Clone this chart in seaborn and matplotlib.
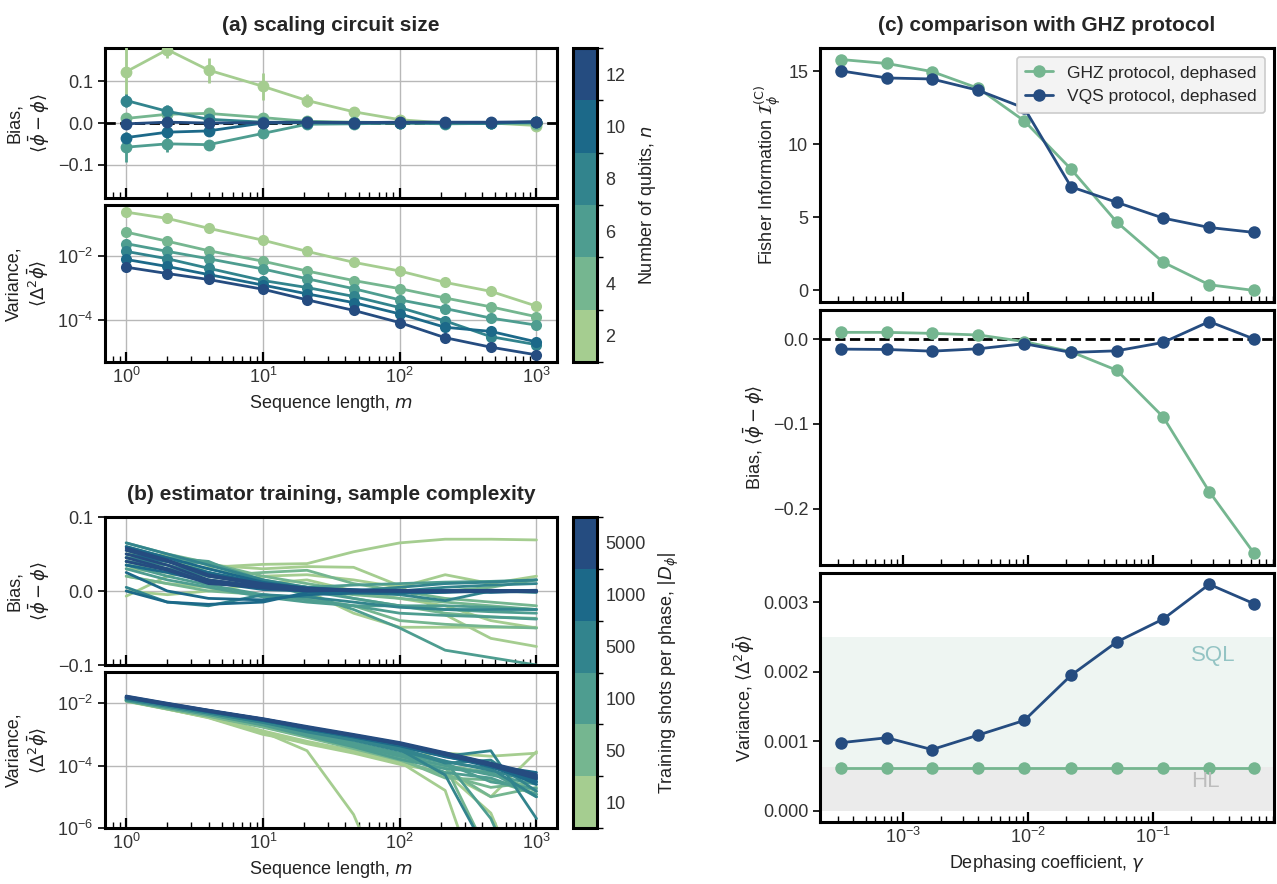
import numpy as np
import pandas as pd
import seaborn as sns
import matplotlib.pyplot as plt
from matplotlib.colors import ListedColormap, BoundaryNorm
from matplotlib.cm import ScalarMappable
from matplotlib.ticker import LogLocator, NullLocator, NullFormatter

# ---------------- data ----------------
m = [1, 2, 4, 10, 21, 46, 100, 215, 464, 1000]

# (a) scaling circuit size
n_qubits = [2, 4, 6, 8, 10, 12]
bias_a = [
    [0.123, 0.176, 0.127, 0.088, 0.054, 0.027, 0.008, 0.000, 0.000, -0.006],
    [0.011, 0.021, 0.023, 0.013, 0.004, 0.002, 0.001, 0.000, -0.001, -0.002],
    [-0.058, -0.050, -0.052, -0.025, -0.003, -0.002, 0.000, -0.002, -0.001, 0.002],
    [0.054, 0.028, 0.009, 0.002, 0.002, 0.001, 0.000, 0.000, 0.000, 0.003],
    [-0.035, -0.022, -0.019, 0.000, 0.001, 0.000, 0.001, 0.001, 0.000, 0.002],
    [-0.002, 0.002, 0.000, 0.001, 0.002, 0.001, 0.002, 0.002, 0.002, 0.003],
]
bias_err_a = [
    [0.065, 0.020, 0.030, 0.032, 0.016, 0.006, 0.004, 0.002, 0.002, 0.002],
    [0.012, 0.010, 0.008, 0.005, 0.003, 0.002, 0.001, 0.001, 0.001, 0.001],
    [0.036, 0.020, 0.010, 0.008, 0.003, 0.002, 0.001, 0.001, 0.001, 0.001],
    [0.015, 0.015, 0.005, 0.003, 0.002, 0.001, 0.001, 0.001, 0.001, 0.001],
    [0.010, 0.008, 0.005, 0.003, 0.002, 0.001, 0.001, 0.001, 0.001, 0.001],
    [0.005, 0.004, 0.003, 0.002, 0.001, 0.001, 0.001, 0.001, 0.001, 0.001],
]
var_a = [
    [0.232, 0.148, 0.073, 0.031, 0.0139, 0.00636, 0.0034, 0.0015, 0.00079, 0.000274],
    [0.0553, 0.0288, 0.0146, 0.00686, 0.0034, 0.00172, 0.00096, 0.00049, 0.00026, 0.000128],
    [0.0242, 0.0139, 0.0082, 0.00394, 0.00195, 0.00096, 0.00043, 0.00023, 0.000116, 7.0e-5],
    [0.0139, 0.0082, 0.00414, 0.00172, 0.00104, 0.00055, 0.000247, 9.5e-5, 3.06e-5, 1.72e-5],
    [0.00778, 0.0047, 0.00264, 0.00124, 0.00066, 0.000352, 0.000157, 6.0e-5, 4.47e-5, 2.1e-5],
    [0.00447, 0.00284, 0.00185, 0.00092, 0.00043, 0.000202, 8.4e-5, 2.84e-5, 1.44e-5, 8.3e-6],
]

# (b) estimator training, five runs per number of training shots
shots = [10, 50, 100, 500, 1000, 5000]
bias_b = {
    10: [
        [-0.007, 0.020, 0.032, 0.036, 0.037, 0.053, 0.065, 0.070, 0.070, 0.069],
        [0.050, 0.048, 0.035, 0.030, 0.033, 0.032, 0.007, -0.032, -0.064, -0.075],
        [0.020, 0.010, 0.005, 0.020, 0.022, 0.015, 0.005, 0.022, 0.010, 0.020],
        [0.000, -0.005, 0.000, 0.010, 0.015, 0.000, -0.010, -0.020, -0.040, -0.050],
        [0.030, 0.025, 0.015, 0.005, 0.000, -0.030, -0.049, -0.049, -0.049, -0.049],
    ],
    50: [
        [0.040, 0.035, 0.020, 0.025, 0.028, 0.010, 0.000, -0.010, -0.015, -0.020],
        [0.045, 0.040, 0.030, 0.015, 0.005, -0.010, -0.020, -0.030, -0.035, -0.037],
        [0.065, 0.050, 0.038, 0.020, 0.010, 0.000, 0.000, 0.000, 0.005, 0.015],
        [0.020, 0.010, 0.000, -0.005, -0.010, -0.020, -0.040, -0.045, -0.048, -0.050],
        [0.035, 0.030, 0.020, 0.010, 0.003, -0.005, -0.010, -0.015, -0.020, -0.025],
    ],
    100: [
        [0.060, 0.045, 0.040, 0.010, -0.005, -0.025, -0.050, -0.080, -0.090, -0.100],
        [0.045, 0.040, 0.038, 0.015, 0.000, -0.010, -0.020, -0.025, -0.028, -0.030],
        [0.030, 0.015, 0.005, -0.008, -0.015, -0.020, -0.020, -0.020, -0.022, -0.025],
        [0.040, 0.030, 0.025, 0.010, 0.005, 0.008, 0.010, 0.012, 0.013, 0.015],
        [0.035, 0.020, 0.008, -0.005, -0.012, -0.020, -0.030, -0.033, -0.035, -0.038],
    ],
    500: [
        [0.065, 0.050, 0.035, 0.015, 0.005, 0.000, 0.005, 0.010, 0.012, 0.015],
        [0.045, 0.035, 0.020, 0.010, 0.005, -0.002, -0.005, -0.013, 0.000, 0.000],
        [0.005, -0.015, -0.020, -0.005, -0.008, -0.015, -0.022, -0.025, -0.025, -0.025],
        [0.055, 0.040, 0.025, 0.005, 0.000, 0.000, 0.000, 0.005, 0.008, 0.010],
        [0.040, 0.030, 0.015, 0.005, 0.002, 0.000, 0.000, 0.000, 0.000, -0.002],
    ],
    1000: [
        [0.000, -0.015, -0.018, -0.015, -0.002, 0.000, 0.000, 0.000, 0.000, 0.000],
        [0.025, 0.000, -0.010, -0.012, -0.005, -0.003, -0.003, -0.002, 0.000, 0.000],
        [0.050, 0.040, 0.025, 0.010, 0.004, 0.002, 0.000, 0.000, -0.002, 0.000],
        [0.060, 0.045, 0.030, 0.012, 0.003, 0.000, 0.000, 0.000, 0.000, 0.000],
        [0.035, 0.025, 0.012, 0.002, 0.000, -0.002, -0.001, 0.000, 0.000, 0.000],
    ],
    5000: [
        [0.055, 0.040, 0.020, 0.008, 0.003, 0.001, 0.000, 0.000, 0.000, 0.000],
        [0.050, 0.035, 0.015, 0.006, 0.002, 0.000, 0.000, 0.000, 0.000, -0.001],
        [0.045, 0.030, 0.012, 0.004, 0.000, 0.001, 0.000, 0.000, 0.001, 0.000],
        [0.040, 0.028, 0.010, 0.005, 0.002, 0.000, 0.000, -0.001, 0.000, 0.000],
        [0.058, 0.042, 0.022, 0.010, 0.004, 0.001, 0.001, 0.000, 0.000, 0.001],
    ],
}
var_b = {
    10: [
        [0.012, 0.0065, 0.0036, 0.0012, 0.0003, 2.7e-6, 1e-9, 1e-9, 1e-9, 1e-9],
        [0.0118, 0.0065, 0.0034, 0.0010, 0.00055, 0.0003, 0.0002, 0.00025, 0.0002, 0.00025],
        [0.012, 0.0068, 0.0038, 0.0013, 0.0006, 0.0003, 0.00013, 1.6e-5, 1e-9, 1e-9],
        [0.0115, 0.0064, 0.0035, 0.0011, 0.0005, 0.00025, 0.00011, 6e-5, 1e-5, 2.8e-4],
        [0.0122, 0.0067, 0.0037, 0.0012, 0.00055, 0.00028, 0.00012, 6e-5, 3e-6, 1e-9],
    ],
    50: [
        [0.012, 0.0068, 0.0040, 0.0018, 0.0009, 0.0004, 0.00018, 8e-5, 1e-5, 2e-5],
        [0.0125, 0.0070, 0.0042, 0.0019, 0.0010, 0.00045, 0.0002, 0.0001, 6e-5, 1.5e-5],
        [0.012, 0.0069, 0.0038, 0.0017, 0.0008, 0.00035, 0.00015, 5e-5, 2e-5, 3e-5],
        [0.0118, 0.0066, 0.0039, 0.0018, 0.00085, 0.00038, 0.00016, 4e-5, 3.5e-5, 1.2e-5],
        [0.0122, 0.0069, 0.0040, 0.0018, 0.0009, 0.0004, 0.00017, 0.0001, 1e-7, 1e-9],
    ],
    100: [
        [0.013, 0.0075, 0.0045, 0.0022, 0.0011, 0.0005, 0.00022, 6e-5, 4e-5, 1.2e-5],
        [0.0125, 0.0074, 0.0044, 0.0021, 0.0010, 0.00045, 0.0002, 0.0001, 5e-5, 2.5e-5],
        [0.013, 0.0078, 0.0046, 0.0023, 0.0012, 0.00055, 0.00025, 0.00012, 3e-5, 1.8e-5],
        [0.012, 0.0072, 0.0043, 0.0020, 0.0009, 0.0004, 0.00016, 8e-5, 6e-5, 1e-5],
        [0.0128, 0.0076, 0.0045, 0.0022, 0.0011, 0.0005, 0.00021, 0.00014, 2e-6, 1e-9],
    ],
    500: [
        [0.014, 0.0085, 0.0050, 0.0026, 0.0014, 0.0007, 0.0004, 0.0002, 0.0003, 2e-6],
        [0.0145, 0.0088, 0.0052, 0.0027, 0.0014, 0.00075, 0.00038, 0.00012, 0.00015, 1.5e-5],
        [0.013, 0.0080, 0.0048, 0.0025, 0.0013, 0.0007, 0.00035, 0.00014, 7e-5, 3e-5],
        [0.0135, 0.0082, 0.0049, 0.0024, 0.0012, 0.00065, 0.0003, 0.00013, 8e-5, 1e-5],
        [0.014, 0.0086, 0.0051, 0.0026, 0.0013, 0.0007, 0.00033, 5e-5, 1e-7, 1e-9],
    ],
    1000: [
        [0.015, 0.0090, 0.0055, 0.0030, 0.0016, 0.0009, 0.0005, 0.00022, 0.0001, 3.5e-5],
        [0.016, 0.0095, 0.0056, 0.0029, 0.0015, 0.00085, 0.00045, 0.0002, 9e-5, 3e-5],
        [0.0145, 0.0088, 0.0054, 0.0028, 0.0016, 0.00088, 0.00048, 0.00021, 0.0001, 6e-5],
        [0.0155, 0.0092, 0.0056, 0.0030, 0.0017, 0.0009, 0.0005, 0.00023, 0.0001, 4e-5],
        [0.015, 0.0090, 0.0053, 0.0028, 0.0015, 0.00082, 0.00043, 0.00019, 0.00011, 2.5e-5],
    ],
    5000: [
        [0.016, 0.0095, 0.0058, 0.0031, 0.0017, 0.00095, 0.00052, 0.00024, 0.00011, 4.5e-5],
        [0.017, 0.0100, 0.0060, 0.0032, 0.0018, 0.0010, 0.00055, 0.00026, 0.00012, 5.2e-5],
        [0.015, 0.0090, 0.0055, 0.0029, 0.0016, 0.0009, 0.00049, 0.00022, 0.0001, 3.8e-5],
        [0.0165, 0.0097, 0.0059, 0.0030, 0.00165, 0.00092, 0.0005, 0.00023, 0.000105, 4.2e-5],
        [0.0155, 0.0092, 0.0057, 0.0031, 0.0017, 0.00094, 0.00051, 0.00025, 0.000115, 4.8e-5],
    ],
}

# (c) comparison with GHZ protocol
gamma = [3.2e-4, 7.4e-4, 1.7e-3, 4.0e-3, 9.3e-3, 0.022, 0.051, 0.12, 0.28, 0.64]
fisher_ghz = [15.8, 15.53, 14.98, 13.83, 11.6, 8.3, 4.68, 1.93, 0.39, 0.0]
fisher_vqs = [15.02, 14.54, 14.47, 13.69, 12.48, 7.09, 6.03, 4.95, 4.31, 3.97]
bias_ghz = [0.0079, 0.0079, 0.0067, 0.0048, -0.003, -0.015, -0.0368, -0.092, -0.18, -0.253]
bias_vqs = [-0.0119, -0.0123, -0.0143, -0.0115, -0.0055, -0.0158, -0.0139, -0.004, 0.0206, 0.0]
var_ghz = [0.00062] * 10
var_vqs = [0.00098, 0.00105, 0.00088, 0.00109, 0.0013, 0.00195, 0.00243, 0.00276, 0.00326, 0.00298]
sql_level = 0.0025
hl_level = 0.000625

# ---------------- style ----------------
sns.set_theme(style="ticks")
plt.rcParams.update({
    "axes.linewidth": 2.2,
    "axes.edgecolor": "black",
    "xtick.direction": "in",
    "ytick.direction": "out",
    "xtick.color": "black",
    "ytick.color": "black",
    "xtick.labelcolor": "#333333",
    "ytick.labelcolor": "#333333",
    "xtick.labelsize": 13,
    "ytick.labelsize": 13,
    "axes.labelsize": 13,
    "axes.labelcolor": "#222222",
    "mathtext.fontset": "dejavusans",
})
plt.rcParams["font.family"] = ["Liberation Sans", "DejaVu Sans"]

crest = sns.color_palette("crest", as_cmap=True)
shades = [crest(v) for v in np.linspace(0.0, 0.85, 6)]
ghz_color = shades[1]
vqs_color = shades[5]

W, H = 1277, 884
fig = plt.figure(figsize=(W / 100, H / 100), dpi=100)


def box(l, t, r, b):
    return [l / W, 1 - b / H, (r - l) / W, (b - t) / H]


def log_x(ax, labels=True):
    ax.set_xscale("log")
    ax.xaxis.set_major_locator(LogLocator(base=10, numticks=10))
    ax.xaxis.set_minor_locator(LogLocator(base=10, subs=np.arange(2, 10), numticks=20))
    ax.xaxis.set_minor_formatter(NullFormatter())
    ax.tick_params(axis="x", which="major", length=7, width=1.6, top=False)
    ax.tick_params(axis="x", which="minor", length=4, width=1.0, top=False)
    ax.tick_params(axis="y", which="major", length=5, width=1.2)
    ax.tick_params(axis="x", labelbottom=labels)


def add_cbar(rect, labels, ticks, bounds, label):
    cax = fig.add_axes(box(*rect))
    cmap = ListedColormap(shades)
    norm = BoundaryNorm(bounds, cmap.N)
    cb = fig.colorbar(ScalarMappable(norm=norm, cmap=cmap), cax=cax, ticks=ticks)
    cb.ax.set_yticklabels(labels)
    cb.outline.set_linewidth(2.2)
    cb.ax.tick_params(length=0, labelsize=13, pad=6)
    cb.set_label(label, fontsize=13, labelpad=8)
    return cb


grid_kw = dict(color="#b8b8b8", lw=1.0)

# ---------------- (a) ----------------
ax_a1 = fig.add_axes(box(105, 48, 557, 198))
ax_a2 = fig.add_axes(box(105, 205, 557, 362), sharex=ax_a1)

ax_a1.axhline(0, color="black", ls="--", lw=2, zorder=1)
for c, b, e in zip(shades, bias_a, bias_err_a):
    ax_a1.errorbar(m, b, yerr=e, fmt="-o", color=c, ms=7.5, lw=2, elinewidth=2,
                   capsize=0, zorder=3)

var_a_df = pd.DataFrame([
    {"m": mm, "var": v, "n": n}
    for n, row in zip(n_qubits, var_a) for mm, v in zip(m, row)
])
sns.lineplot(data=var_a_df, x="m", y="var", hue="n", palette=dict(zip(n_qubits, shades)),
             marker="o", markersize=8, markeredgewidth=0, lw=2, legend=False, ax=ax_a2)

for ax in (ax_a1, ax_a2):
    log_x(ax, labels=(ax is ax_a2))
    ax.grid(True, which="major", **grid_kw)
    ax.set_axisbelow(True)

ax_a1.set_ylim(-0.18, 0.18)
ax_a1.set_yticks([-0.1, 0.0, 0.1])
ax_a1.set_ylabel("Bias,\n" + r"$\langle\bar{\phi}-\phi\rangle$")
ax_a1.set_xlabel("")
ax_a1.set_title("(a) scaling circuit size", fontsize=15, fontweight="bold", pad=12)

ax_a2.set_yscale("log")
ax_a2.set_yticks([1e-4, 1e-2])
ax_a2.yaxis.set_minor_locator(NullLocator())
ax_a2.set_ylabel("Variance,\n" + r"$\langle\Delta^2\bar{\phi}\rangle$")
ax_a2.set_xlabel(r"Sequence length, $m$")
ax_a2.set_xlim(0.7, 1413)

add_cbar((573, 48, 597, 362), [str(n) for n in n_qubits], n_qubits,
         [1, 3, 5, 7, 9, 11, 13], r"Number of qubits, $n$")

# ---------------- (b) ----------------
ax_b1 = fig.add_axes(box(105, 517, 557, 665))
ax_b2 = fig.add_axes(box(105, 672, 557, 828), sharex=ax_b1)

rows = []
for s in shots:
    for run, (brow, vrow) in enumerate(zip(bias_b[s], var_b[s])):
        for mm, bv, vv in zip(m, brow, vrow):
            rows.append({"m": mm, "bias": bv, "var": vv, "shots": s, "run": run})
b_df = pd.DataFrame(rows)
pal_b = dict(zip(shots, shades))
sns.lineplot(data=b_df, x="m", y="bias", hue="shots", units="run", estimator=None,
             palette=pal_b, hue_order=shots, lw=2, legend=False, ax=ax_b1)
sns.lineplot(data=b_df, x="m", y="var", hue="shots", units="run", estimator=None,
             palette=pal_b, hue_order=shots, lw=2, legend=False, ax=ax_b2)

for ax in (ax_b1, ax_b2):
    log_x(ax, labels=(ax is ax_b2))
    ax.grid(True, which="major", **grid_kw)
    ax.set_axisbelow(True)

ax_b1.set_ylim(-0.1, 0.1)
ax_b1.set_yticks([-0.1, 0.0, 0.1])
ax_b1.set_ylabel("Bias,\n" + r"$\langle\bar{\phi}-\phi\rangle$")
ax_b1.set_xlabel("")
ax_b1.set_title("(b) estimator training, sample complexity", fontsize=15,
                fontweight="bold", pad=12)

ax_b2.set_yscale("log")
ax_b2.set_ylim(1e-6, 0.1)
ax_b2.set_yticks([1e-6, 1e-4, 1e-2])
ax_b2.yaxis.set_minor_locator(NullLocator())
ax_b2.set_ylabel("Variance,\n" + r"$\langle\Delta^2\bar{\phi}\rangle$")
ax_b2.set_xlabel(r"Sequence length, $m$")
ax_b2.set_xlim(0.7, 1413)

add_cbar((573, 517, 597, 828), [str(s) for s in shots], [0.5, 1.5, 2.5, 3.5, 4.5, 5.5],
         [0, 1, 2, 3, 4, 5, 6], r"Training shots per phase, $|D_\phi|$")

# ---------------- (c) ----------------
ax_c1 = fig.add_axes(box(820, 48, 1274, 302))
ax_c2 = fig.add_axes(box(820, 310, 1274, 565), sharex=ax_c1)
ax_c3 = fig.add_axes(box(820, 573, 1274, 822), sharex=ax_c1)

c_df = pd.DataFrame({
    "gamma": gamma * 2,
    "fisher": fisher_ghz + fisher_vqs,
    "bias": bias_ghz + bias_vqs,
    "var": var_ghz + var_vqs,
    "protocol": ["GHZ protocol, dephased"] * 10 + ["VQS protocol, dephased"] * 10,
})
pal_c = {"GHZ protocol, dephased": ghz_color, "VQS protocol, dephased": vqs_color}
line_kw = dict(marker="o", markersize=9, markeredgewidth=0, lw=2)

ax_c3.axhspan(hl_level, sql_level, color="#eef5f2", lw=0, zorder=0)
ax_c3.axhspan(0, hl_level, color="#ebebeb", lw=0, zorder=0)
ax_c2.axhline(0, color="black", ls="--", lw=2, zorder=1)

sns.lineplot(data=c_df, x="gamma", y="fisher", hue="protocol", palette=pal_c, ax=ax_c1, **line_kw)
sns.lineplot(data=c_df, x="gamma", y="bias", hue="protocol", palette=pal_c, ax=ax_c2,
             legend=False, **line_kw)
sns.lineplot(data=c_df, x="gamma", y="var", hue="protocol", palette=pal_c, ax=ax_c3,
             legend=False, **line_kw)

for ax in (ax_c1, ax_c2, ax_c3):
    log_x(ax, labels=(ax is ax_c3))
    ax.set_xlabel("")

ax_c1.set_title("(c) comparison with GHZ protocol", fontsize=15, fontweight="bold", pad=12)
ax_c1.set_ylabel(r"Fisher Information $\mathcal{I}_{\phi}^{(\mathrm{C})}$")
ax_c1.set_yticks([0, 5, 10, 15])
leg = ax_c1.legend(loc="upper right", fontsize=12.5, frameon=True, facecolor="#f3f3f3",
                   edgecolor="#cccccc", framealpha=1, borderpad=0.5, handlelength=1.6)
leg.get_frame().set_linewidth(1.2)

ax_c2.set_ylabel(r"Bias, $\langle\bar{\phi}-\phi\rangle$")
ax_c2.set_yticks([-0.2, -0.1, 0.0])

ax_c3.set_ylabel(r"Variance, $\langle\Delta^2\bar{\phi}\rangle$")
ax_c3.set_yticks([0.0, 0.001, 0.002, 0.003])
ax_c3.set_xlabel(r"Dephasing coefficient, $\gamma$")
ax_c3.text(0.3, 0.00224, "SQL", color="#94c4c4", fontsize=16, ha="center", va="center")
ax_c3.text(0.26, 0.00042, "HL", color="#bdbdbd", fontsize=16, ha="center", va="center")
ax_c3.set_xlim(10 ** -3.665, 10 ** -0.035)

fig.savefig("out.png", dpi=100)
